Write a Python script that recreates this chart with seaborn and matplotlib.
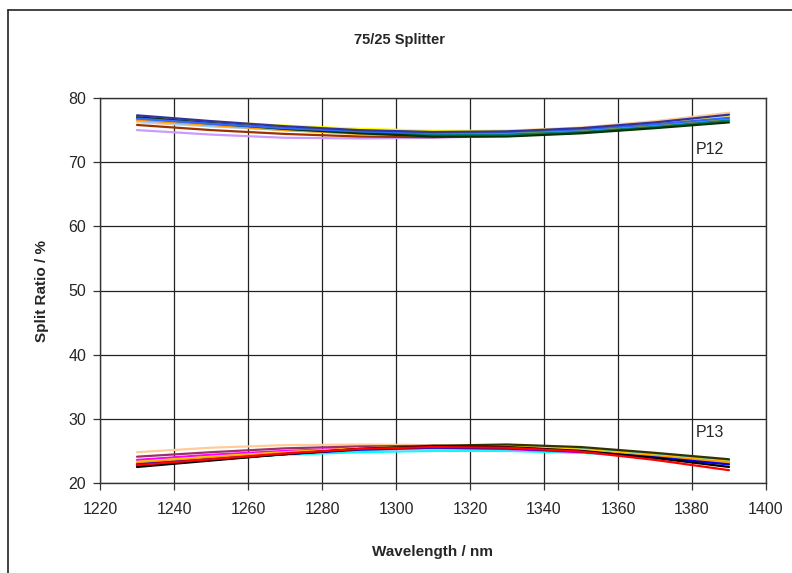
import numpy as np
import pandas as pd
import matplotlib
matplotlib.use("Agg")
import matplotlib.pyplot as plt
import seaborn as sns
from matplotlib.lines import Line2D

# Wavelength sample points (nm)
wavelength = [1230, 1250, 1270, 1290, 1310, 1330, 1350, 1370, 1390]

# P12 port split ratios (%), one list per device
p12_navy = [77.3, 76.4, 75.6, 75.0, 74.7, 74.8, 75.3, 76.2, 77.4]
p12_blue = [76.8, 76.0, 75.3, 74.8, 74.6, 74.7, 75.1, 75.9, 76.9]
p12_green = [77.0, 76.1, 75.2, 74.5, 74.0, 74.0, 74.5, 75.3, 76.2]
p12_yellow = [77.0, 76.3, 75.7, 75.2, 74.9, 74.9, 75.2, 76.0, 77.0]
p12_mint = [76.5, 75.7, 75.0, 74.5, 74.3, 74.4, 74.8, 75.6, 76.6]
p12_brown = [75.8, 75.0, 74.4, 74.0, 73.9, 74.1, 74.6, 75.5, 76.7]
p12_lavender = [75.0, 74.3, 73.8, 73.7, 73.8, 74.1, 74.7, 75.7, 77.0]
p12_orange = [76.6, 75.8, 75.0, 74.4, 74.1, 74.2, 74.7, 75.5, 76.6]
p12_tan = [76.2, 75.6, 75.1, 74.8, 74.7, 74.9, 75.4, 76.4, 77.7]
p12_teal = [76.9, 76.0, 75.2, 74.6, 74.3, 74.3, 74.7, 75.5, 76.5]
p12_lime = [76.7, 75.9, 75.3, 74.8, 74.5, 74.5, 74.9, 75.7, 76.8]
p12_paleblue = [76.4, 75.6, 75.0, 74.6, 74.4, 74.5, 75.0, 75.8, 76.9]

# P13 port split ratios (%)
p13_peach = [24.8, 25.5, 25.9, 26.0, 25.9, 25.6, 25.0, 24.2, 23.2]
p13_plum = [24.1, 24.8, 25.4, 25.7, 25.8, 25.6, 25.1, 24.3, 23.3]
p13_magenta = [23.6, 24.4, 25.0, 25.4, 25.5, 25.3, 24.8, 24.0, 23.0]
p13_cream = [23.4, 24.2, 24.8, 25.2, 25.4, 25.2, 24.7, 23.9, 22.9]
p13_cyan = [23.2, 23.9, 24.4, 24.8, 25.0, 25.0, 24.7, 24.1, 23.3]
p13_skyblue = [23.3, 24.1, 24.7, 25.1, 25.3, 25.3, 25.0, 24.3, 23.4]
p13_aqua = [23.0, 23.8, 24.5, 25.1, 25.5, 25.6, 25.3, 24.5, 23.5]
p13_gold = [23.3, 24.1, 24.8, 25.4, 25.7, 25.7, 25.2, 24.3, 23.3]
p13_orange = [23.1, 23.9, 24.7, 25.3, 25.6, 25.5, 25.0, 24.2, 23.2]
p13_olive = [22.7, 23.6, 24.5, 25.3, 25.8, 26.0, 25.6, 24.7, 23.7]
p13_blue = [22.9, 23.7, 24.5, 25.2, 25.5, 25.4, 24.9, 24.0, 22.9]
p13_black = [22.5, 23.5, 24.5, 25.3, 25.7, 25.6, 25.0, 23.9, 22.5]
p13_red = [22.8, 23.7, 24.6, 25.3, 25.6, 25.5, 24.9, 23.6, 22.0]

series = {
    "P12 tan": (p12_tan, "#FFCC99"),
    "P12 lavender": (p12_lavender, "#CC99FF"),
    "P12 brown": (p12_brown, "#993300"),
    "P12 mint": (p12_mint, "#CCFFCC"),
    "P12 paleblue": (p12_paleblue, "#99CCFF"),
    "P12 lime": (p12_lime, "#99CC00"),
    "P12 yellow": (p12_yellow, "#FFFF00"),
    "P12 orange": (p12_orange, "#FF9900"),
    "P12 teal": (p12_teal, "#008080"),
    "P12 green": (p12_green, "#003300"),
    "P12 blue": (p12_blue, "#3366FF"),
    "P12 navy": (p12_navy, "#333399"),
    "P13 peach": (p13_peach, "#FFCC99"),
    "P13 cream": (p13_cream, "#FFFF99"),
    "P13 cyan": (p13_cyan, "#00FFFF"),
    "P13 skyblue": (p13_skyblue, "#99CCFF"),
    "P13 plum": (p13_plum, "#993366"),
    "P13 magenta": (p13_magenta, "#FF00FF"),
    "P13 aqua": (p13_aqua, "#33CCCC"),
    "P13 gold": (p13_gold, "#FFCC00"),
    "P13 orange": (p13_orange, "#FF9900"),
    "P13 olive": (p13_olive, "#333300"),
    "P13 blue": (p13_blue, "#0000FF"),
    "P13 black": (p13_black, "#000000"),
    "P13 red": (p13_red, "#FF0000"),
}

rows = []
for name, (vals, _) in series.items():
    for w, v in zip(wavelength, vals):
        rows.append({"wavelength": w, "ratio": v, "device": name})
df = pd.DataFrame(rows)
palette = {name: c for name, (_, c) in series.items()}

sns.set_style("white")
plt.rcParams['font.family'] = ['Liberation Sans', 'DejaVu Sans']

fig = plt.figure(figsize=(7.92, 5.73), dpi=100)
ax = fig.add_axes([100 / 792, 90 / 573, 666 / 792, 385 / 573])

sns.lineplot(data=df, x="wavelength", y="ratio", hue="device",
             palette=palette, linewidth=1.6, legend=False, ax=ax,
             hue_order=list(series.keys()))

ax.set_xlim(1220, 1400)
ax.set_ylim(20, 80)
ax.set_xticks(np.arange(1220, 1401, 20))
ax.set_yticks(np.arange(20, 81, 10))
ax.grid(True, color="#222222", linewidth=0.9)
ax.set_axisbelow(True)
for s in ax.spines.values():
    s.set_color("#333333")
    s.set_linewidth(1.0)
ax.tick_params(axis="both", direction="out", length=5, width=0.9,
               color="#333333", labelsize=11.5, pad=5, left=True, bottom=True)
ax.tick_params(axis="x", pad=9)

ax.set_xlabel("Wavelength / nm", fontsize=11, fontweight="bold", labelpad=20)
ax.set_ylabel("Split Ratio / %", fontsize=11, fontweight="bold", labelpad=14)

ax.text(1381, 71.9, "P12", fontsize=11.5, va="center", ha="left")
ax.text(1381, 27.8, "P13", fontsize=11.5, va="center", ha="left")

fig.text(400 / 792, 1 - 40 / 573, "75/25 Splitter", fontsize=10.5,
         fontweight="bold", ha="center", va="center")

# outer chart frame
fig.add_artist(Line2D([8 / 792, 8 / 792], [0, 1 - 10 / 573],
                      transform=fig.transFigure, color="#222222", lw=1.2))
fig.add_artist(Line2D([8 / 792, 1], [1 - 10 / 573, 1 - 10 / 573],
                      transform=fig.transFigure, color="#222222", lw=1.2))

fig.savefig("out.png", dpi=100)
